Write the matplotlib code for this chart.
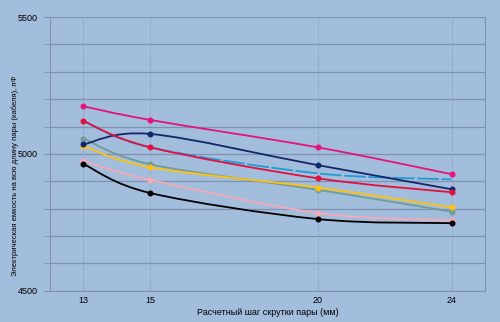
import matplotlib.pyplot as plt
from matplotlib.path import Path
from matplotlib.patches import PathPatch

plt.rcParams['font.family'] = ['Liberation Sans Narrow', 'Liberation Sans', 'DejaVu Sans']

# шаг скрутки, мм
x = [13, 15, 20, 24]

# емкость, пФ
s_magenta = [5174, 5124, 5024, 4926]
s_cyan = [5120, 5024, 4929, 4907]
s_red = [5120, 5024, 4911, 4860]
s_navy = [5035, 5073, 4959, 4871]
s_teal = [5056, 4962, 4869, 4789]
s_yellow = [5029, 4951, 4877, 4805]
s_pink = [4974, 4905, 4784, 4757]
s_black = [4963, 4857, 4762, 4747]

bg = '#A3BDDC'
grid_c = '#7F93B0'


def smooth_path(xs, ys, k=1/6):
    # кривая Безье через точки, как "сглаженная линия" в Excel
    verts = [(xs[0], ys[0])]
    codes = [Path.MOVETO]
    n = len(xs)
    for i in range(n - 1):
        x0, y0 = xs[max(i - 1, 0)], ys[max(i - 1, 0)]
        x1, y1 = xs[i], ys[i]
        x2, y2 = xs[i + 1], ys[i + 1]
        x3, y3 = xs[min(i + 2, n - 1)], ys[min(i + 2, n - 1)]
        c1 = (x1 + (x2 - x0) * k, y1 + (y2 - y0) * k)
        c2 = (x2 - (x3 - x1) * k, y2 - (y3 - y1) * k)
        verts += [c1, c2, (x2, y2)]
        codes += [Path.CURVE4] * 3
    return Path(verts, codes)


fig = plt.figure(figsize=(5, 3.22), dpi=100, facecolor=bg)
ax = fig.add_axes([0.1, 0.097, 0.87, 0.85])
ax.set_facecolor(bg)

series = [
    (s_cyan, '#1F9BD6', '--', False),
    (s_teal, '#6E9C98', '-', True),
    (s_yellow, '#FFC20E', '-', True),
    (s_pink, '#F6A9B6', '-', True),
    (s_black, '#000000', '-', True),
    (s_navy, '#15256A', '-', True),
    (s_red, '#E2103E', '-', True),
    (s_magenta, '#E3147A', '-', True),
]
for ys, col, ls, mk in series:
    p = PathPatch(smooth_path(x, ys), fill=False, edgecolor=col, lw=1.3,
                  linestyle=(0, (12, 1.5)) if ls == '--' else '-', zorder=3)
    ax.add_patch(p)
    if mk:
        ax.plot(x, ys, 'o', color=col, ms=3.3, zorder=4)

ax.set_xlim(12, 25)
ax.set_ylim(4500, 5500)
ax.set_xticks(x)
ax.set_yticks([4500, 5000, 5500])
ax.set_yticks(range(4500, 5501, 100), minor=True)
ax.grid(True, which='both', axis='y', color=grid_c, lw=0.9)
ax.grid(True, axis='x', color=grid_c, lw=0.7, linestyle=':')
ax.set_axisbelow(True)
for side in ['left', 'bottom', 'right', 'top']:
    ax.spines[side].set_color(grid_c)
ax.spines['top'].set_visible(False)
ax.tick_params(axis='y', which='both', length=4, color=grid_c, labelsize=6.5, pad=5)
ax.tick_params(axis='x', length=0, labelsize=6.5, pad=4)

ax.set_xlabel('Расчетный шаг скрутки пары (мм)', fontsize=6.5, labelpad=2)
ax.set_ylabel('Электрическая емкость на всю длину пары (кабеля), пФ', fontsize=5.5)
ax.yaxis.set_label_coords(-0.072, 0.42)

fig.savefig('out.png', dpi=100, facecolor=bg)
